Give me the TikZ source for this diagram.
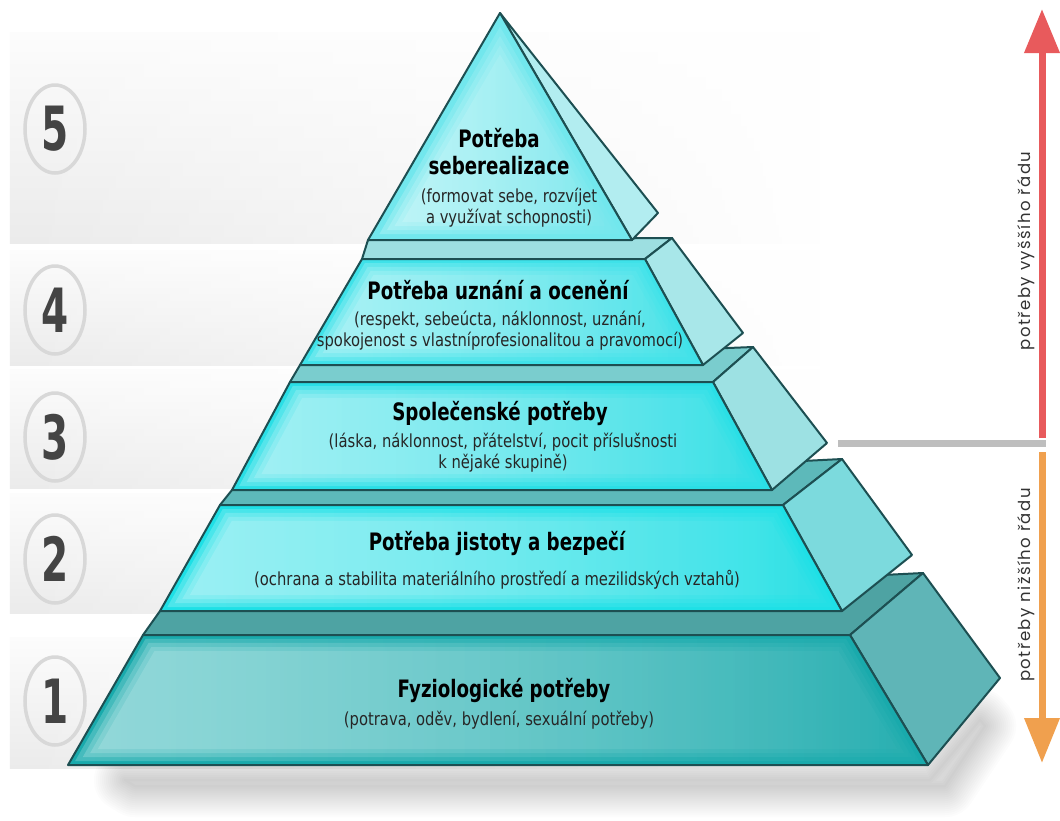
\documentclass[tikz,border=0pt]{standalone}
\usepackage{fontspec}
\usetikzlibrary{shapes.geometric,fadings,arrows.meta}
\newfontfamily\pyrfont{DejaVu Sans}[FakeStretch=0.76]
\newfontfamily\subfont{DejaVu Sans}[FakeStretch=0.82]
\newfontfamily\numfont{DejaVu Sans}[FakeStretch=0.64]
\newfontfamily\sidefont{Poppins}[LetterSpace=9]
\definecolor{edgec}{HTML}{1D4F52}
\definecolor{bandtop}{HTML}{FCFCFC}
\definecolor{bandbot}{HTML}{EBEBEB}
\definecolor{circgray}{HTML}{D8D8D8}
\definecolor{numgray}{HTML}{444444}
\definecolor{fOne}{HTML}{19AAAC}
\definecolor{gOne}{HTML}{C4ECEC}
\definecolor{sOne}{HTML}{5FB5B7}
\definecolor{tOne}{HTML}{4EA3A3}
\definecolor{fTwo}{HTML}{1EE0E6}
\definecolor{gTwo}{HTML}{CDF8FA}
\definecolor{sTwo}{HTML}{7CDADD}
\definecolor{tTwo}{HTML}{5DB9BA}
\definecolor{fThree}{HTML}{2ADFE6}
\definecolor{gThree}{HTML}{D0F8FA}
\definecolor{sThree}{HTML}{9DE1E3}
\definecolor{tThree}{HTML}{7ACDCE}
\definecolor{fFour}{HTML}{3FE2E9}
\definecolor{gFour}{HTML}{D4F9FA}
\definecolor{sFour}{HTML}{A8E7E9}
\definecolor{tFour}{HTML}{9DDFE1}
\definecolor{fFive}{HTML}{72E7ED}
\definecolor{gFive}{HTML}{DDFBFC}
\definecolor{sFive}{HTML}{B2EDF0}
\definecolor{redc}{HTML}{E85A5C}
\definecolor{orangec}{HTML}{F0A04E}
\definecolor{linegray}{HTML}{BEBEBE}
\definecolor{sidetextc}{HTML}{333333}
\tikzfading[name=glowfade, left color=transparent!0, right color=transparent!90]
\tikzfading[name=bandfade, left color=transparent!0, middle color=transparent!35, right color=transparent!100]
\newcommand\faceglow[7]{%
  \foreach \d in {4,8,12,16}{%
    \pgfmathsetmacro\hh{#6-#5}%
    \pgfmathsetmacro\yt{#5+\d}%
    \pgfmathsetmacro\yb{#6-\d}%
    \pgfmathsetmacro\xa{#1+(#4-#1)*\d/\hh+1.3*\d}%
    \pgfmathsetmacro\xb{#2+(#3-#2)*\d/\hh-1.3*\d}%
    \pgfmathsetmacro\xc{#3-(#3-#2)*\d/\hh-1.3*\d}%
    \pgfmathsetmacro\xd{#4-(#4-#1)*\d/\hh+1.3*\d}%
    \fill[#7, fill opacity=0.27, path fading=glowfade] (\xa,\yt) -- (\xb,\yt) -- (\xc,\yb) -- (\xd,\yb) -- cycle;
  }}
\tikzset{
  face/.style={draw=edgec, line width=2pt, line join=round},
  numc/.style={ellipse, draw=circgray, line width=3.5pt, minimum width=60pt, minimum height=88pt, inner sep=0pt, text=numgray, font=\numfont\bfseries\fontsize{61}{61}\selectfont},
  ttl/.style={align=center, inner sep=0pt, text=black, font=\pyrfont\bfseries\fontsize{24}{27}\selectfont},
  sub/.style={align=center, inner sep=0pt, text=black!85, font=\subfont\fontsize{18}{21}\selectfont},
  sidetext/.style={rotate=90, inner sep=0pt, text=sidetextc, font=\sidefont\fontsize{16.5}{16.5}\selectfont},
  band/.style={top color=bandtop, bottom color=bandbot, path fading=bandfade},
  shaft/.style={line width=7pt},
}
\begin{document}
\begin{tikzpicture}[x=1pt,y=-1pt]
\useasboundingbox (0,0) rectangle (1060,820);
\fill[white] (0,0) rectangle (1060,820);
% background bands
\foreach \a/\b in {33/243, 250/365, 370/488, 493/613, 637/768}
  \shade[band] (10,\a) rectangle (820,\b);
% number circles
\node[numc] (n5) at (55,129) {5};
\node[numc] (n4) at (55,310) {4};
\node[numc] (n3) at (55,437) {3};
\node[numc] (n2) at (55,559) {2};
\node[numc] (n1) at (55,701) {1};
% soft shadow
\foreach \w in {2,6,...,62}
  \draw[black!60, opacity=0.02, line width=\w pt, line join=round]
    (125,780) -- (930,780) -- (980,720) -- (985,726) -- (945,786) -- (135,786) -- cycle;
% layer 1
\filldraw[face, fill=tOne] (143,635) -- (850,635) -- (923,573) -- (160,611) -- cycle;
\filldraw[face, fill=sOne] (850,635) -- (923,573) -- (1000,678) -- (928,765) -- cycle;
\fill[fOne] (143,635) -- (850,635) -- (928,765) -- (68,765) -- cycle;
\faceglow{143}{850}{928}{68}{635}{765}{gOne}
\draw[face] (143,635) -- (850,635) -- (928,765) -- (68,765) -- cycle;
% layer 2
\filldraw[face, fill=tTwo] (220,505) -- (783,505) -- (842,459) -- (232,490) -- cycle;
\filldraw[face, fill=sTwo] (783,505) -- (842,459) -- (912,555) -- (842,611) -- cycle;
\fill[fTwo] (220,505) -- (783,505) -- (842,611) -- (160,611) -- cycle;
\faceglow{220}{783}{842}{160}{505}{611}{gTwo}
\draw[face] (220,505) -- (783,505) -- (842,611) -- (160,611) -- cycle;
% layer 3
\filldraw[face, fill=tThree] (290,382) -- (713,382) -- (753,347) -- (300,365) -- cycle;
\filldraw[face, fill=sThree] (713,382) -- (753,347) -- (827,443) -- (772,490) -- cycle;
\fill[fThree] (290,382) -- (713,382) -- (772,490) -- (232,490) -- cycle;
\faceglow{290}{713}{772}{232}{382}{490}{gThree}
\draw[face] (290,382) -- (713,382) -- (772,490) -- (232,490) -- cycle;
% layer 4
\filldraw[face, fill=tFour] (362,259) -- (645,259) -- (672,238) -- (368,240) -- cycle;
\filldraw[face, fill=sFour] (645,259) -- (672,238) -- (743,333) -- (703,365) -- cycle;
\fill[fFour] (362,259) -- (645,259) -- (703,365) -- (300,365) -- cycle;
\faceglow{362}{645}{703}{300}{259}{365}{gFour}
\draw[face] (362,259) -- (645,259) -- (703,365) -- (300,365) -- cycle;
% layer 5
\filldraw[face, fill=sFive] (500,13) -- (658,213) -- (632,240) -- cycle;
\fill[fFive] (500,13) -- (632,240) -- (368,240) -- cycle;
\foreach \d in {6,10,14,18}
  \fill[gFive, fill opacity=0.27, path fading=glowfade] (500,13+2.3*\d) -- (632-1.9*\d,240-\d) -- (368+1.9*\d,240-\d) -- cycle;
\draw[face] (500,13) -- (632,240) -- (368,240) -- cycle;
% texts
\node[ttl] (t5) at (499,152) {Potřeba\\seberealizace};
\node[sub] (s5) at (509,208) {(formovat sebe, rozvíjet\\a využívat schopnosti)};
\node[ttl] (t4) at (498,290) {Potřeba uznání a ocenění};
\node[sub] (s4) at (500,331) {(respekt, sebeúcta, náklonnost, uznání,\\spokojenost s vlastníprofesionalitou a pravomocí)};
\node[ttl] (t3) at (500,413) {Společenské potřeby};
\node[sub] (s3) at (503,453) {(láska, náklonnost, přátelství, pocit příslušnosti\\k nějaké skupině)};
\node[ttl] (t2) at (497,543) {Potřeba jistoty a bezpečí};
\node[sub] (s2) at (497,580) {(ochrana a stabilita materiálního prostředí a mezilidských vztahů)};
\node[ttl] (t1) at (504,690) {Fyziologické potřeby};
\node[sub] (s1) at (499,720) {(potrava, oděv, bydlení, sexuální potřeby)};
% right arrows
\coordinate (g1) at (838,443);
\coordinate (g2) at (1046,443);
\draw[shaft, linegray] (g1) -- (g2);
\coordinate (rb) at (1042,438);
\coordinate (rt) at (1042,9);
\draw[shaft, redc, -{Triangle[width=34pt,length=44pt]}] (rb) -- (rt);
\coordinate (ot) at (1042,452);
\coordinate (ob) at (1042,763);
\draw[shaft, orangec, -{Triangle[width=34pt,length=45pt]}] (ot) -- (ob);
\node[sidetext] (hi) at (1026,251) {potřeby vyššího řádu};
\node[sidetext] (lo) at (1026,585) {potřeby nižšího řádu};
\end{tikzpicture}
\end{document}
